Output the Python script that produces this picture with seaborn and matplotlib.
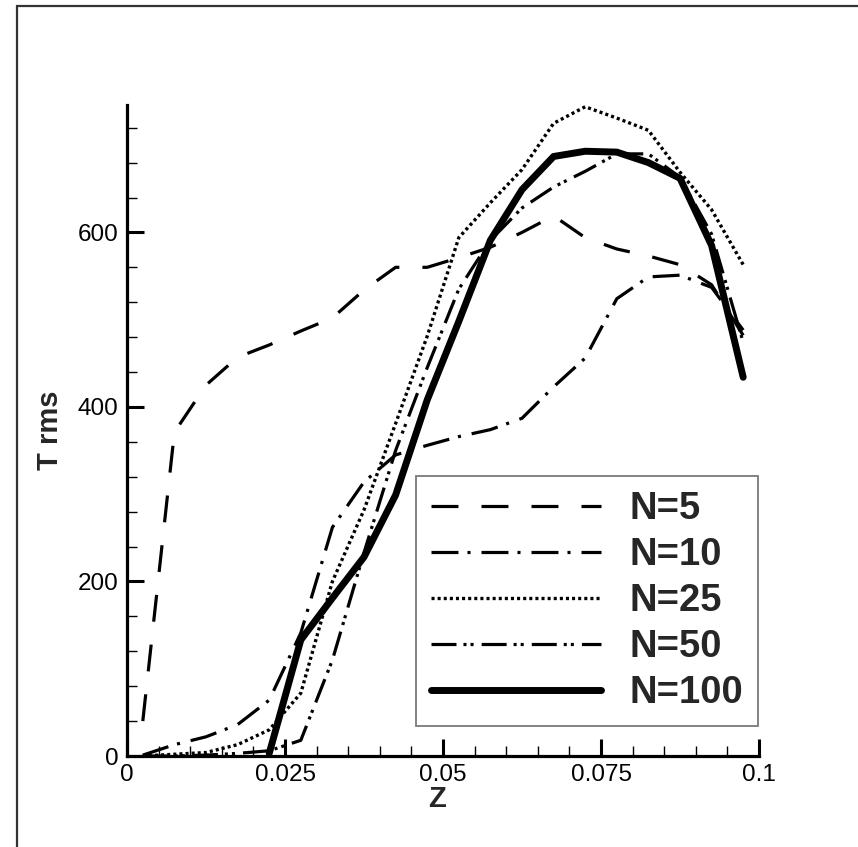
import matplotlib
matplotlib.use("Agg")
import matplotlib.pyplot as plt
import seaborn as sns
from matplotlib.ticker import FixedLocator, MultipleLocator
from matplotlib.patches import Rectangle

# ---------------- data ----------------
z = [0.0025, 0.0075, 0.0125, 0.0175, 0.0225, 0.0275, 0.0325, 0.0375, 0.0425, 0.0475,
     0.0525, 0.0575, 0.0625, 0.0675, 0.0725, 0.0775, 0.0825, 0.0875, 0.0925, 0.0975]

t_n5 = [40, 371, 425, 457, 471, 487, 502, 534, 560, 560,
        571, 583, 600, 619, 594, 581, 573, 563, 540, 482]
t_n10 = [1, 13, 22, 36, 64, 141, 262, 314, 345, 356,
         366, 374, 387, 423, 456, 524, 549, 551, 537, 488]
t_n25 = [0, 2, 4, 13, 30, 72, 200, 282, 381, 481,
         594, 634, 672, 725, 744, 731, 717, 669, 626, 563]
t_n50 = [0, 0, 1, 3, 6, 18, 110, 233, 350, 445,
         535, 591, 628, 652, 670, 690, 690, 663, 598, 474]
t_n100 = [None, None, None, None, 3, 133, 181, 228, 299, 408,
          498, 591, 649, 687, 693, 692, 680, 662, 585, 434]

labels = ["N=5", "N=10", "N=25", "N=50", "N=100"]
x_ticks = [0, 0.025, 0.05, 0.075, 0.1]
x_tick_labels = ["0", "0.025", "0.05", "0.075", "0.1"]
y_ticks = [0, 200, 400, 600]
y_tick_labels = ["0", "200", "400", "600"]
x_label = "Z"
y_label = "T rms"

# ---------------- style ----------------
sns.set_style("ticks")
plt.rcParams["font.family"] = ["Liberation Sans", "DejaVu Sans"]
plt.rcParams["lines.scale_dashes"] = False

W, H = 858, 847
fig = plt.figure(figsize=(W / 100, H / 100), dpi=100)
ax = fig.add_axes([127 / W, 1 - 756 / H, 632 / W, (756 - 105) / H])

series = [t_n5, t_n10, t_n25, t_n50, t_n100]
styles = [
    ((0, (19.4, 16.6)), 2.3),
    ((0, (19.4, 6.5, 2.2, 7.9)), 2.3),
    ((0, (2.2, 2.2)), 2.4),
    ((0, (18, 5, 2.2, 2.9, 2.2, 5.8)), 2.3),
    ("-", 5.0),
]
for lab, vals, (ls, lw) in zip(labels, series, styles):
    yv = [float("nan") if v is None else v for v in vals]
    sns.lineplot(x=z, y=yv, ax=ax, color="black", linestyle=ls, linewidth=lw,
                 label=lab, estimator=None, sort=False)

ax.set_xlim(0, 0.1)
ax.set_ylim(0, 746)
ax.xaxis.set_major_locator(FixedLocator(x_ticks))
ax.set_xticklabels(x_tick_labels)
ax.xaxis.set_minor_locator(MultipleLocator(0.005))
ax.yaxis.set_major_locator(FixedLocator(y_ticks))
ax.set_yticklabels(y_tick_labels)
ax.yaxis.set_minor_locator(MultipleLocator(40))

for s in ["top", "right"]:
    ax.spines[s].set_visible(False)
for s in ["left", "bottom"]:
    ax.spines[s].set_linewidth(2.3)
    ax.spines[s].set_color("black")

ax.tick_params(which="major", direction="in", length=12, width=2.2, labelsize=17.5,
               pad=6, colors="black", left=True, bottom=True)
ax.tick_params(which="minor", direction="in", length=7, width=1.0, colors="black",
               left=True, bottom=True)

ax.set_xlabel(x_label, fontsize=21, fontweight="bold")
ax.set_ylabel(y_label, fontsize=21, fontweight="bold")
ax.xaxis.set_label_coords(0.49, -0.044)
ax.yaxis.set_label_coords(-0.099, 0.5)

fs = 27.5
leg = ax.legend(loc="upper left", bbox_to_anchor=(416 / W, 1 - 476 / H),
                bbox_transform=fig.transFigure, borderaxespad=0,
                prop={"weight": "bold", "size": fs}, handlelength=4.45,
                handletextpad=0.73, labelspacing=0.26, borderpad=0.4,
                fancybox=False, framealpha=1, edgecolor="#7a7a7a")
leg.get_frame().set_linewidth(1.3)

# outer frame of the figure
fig.add_artist(Rectangle((17 / W, -0.5), 2.0, 0.5 + 1 - 6 / H, transform=fig.transFigure,
                         fill=False, lw=1.6, edgecolor="#333333"))

fig.savefig("out.png", dpi=100)
